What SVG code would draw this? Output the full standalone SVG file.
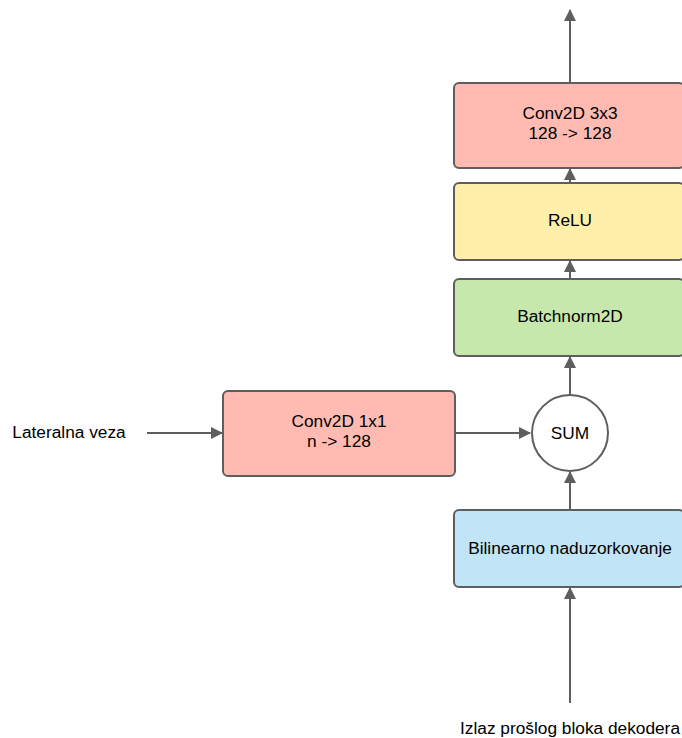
<svg xmlns="http://www.w3.org/2000/svg" width="682" height="738" viewBox="0 0 682 738">
  <style>
    .box { stroke: #5e5e5e; stroke-width: 2; }
    .red { fill: #ffbbb1; }
    .yellow { fill: #ffefa9; }
    .green { fill: #c7e8ac; }
    .blue { fill: #c1e4f7; }
    .lbl { font-family: "Liberation Sans", Arial, sans-serif; font-size: 17.3px; fill: #000; text-anchor: middle; }
    .edge { stroke: #5e5e5e; stroke-width: 2; fill: none; marker-end: url(#arrow); }
  </style>
  <defs>
    <marker id="arrow" viewBox="0 0 12 12" refX="11" refY="6" markerWidth="12" markerHeight="12" markerUnits="userSpaceOnUse" orient="auto">
      <path d="M0,0 L12,6 L0,12 Z" fill="#5e5e5e"/>
    </marker>
  </defs>

  <g id="connectors">
    <line class="edge" x1="570" y1="83" x2="570" y2="10"/>
    <line class="edge" x1="570" y1="183" x2="570" y2="169"/>
    <line class="edge" x1="570" y1="279" x2="570" y2="261"/>
    <line class="edge" x1="570" y1="395" x2="570" y2="357"/>
    <line class="edge" x1="570" y1="510" x2="570" y2="472"/>
    <line class="edge" x1="570" y1="703" x2="570" y2="588"/>
    <line class="edge" x1="147" y1="433" x2="222" y2="433"/>
    <line class="edge" x1="455" y1="433" x2="530" y2="433"/>
  </g>

  <g id="conv3x3">
    <rect class="box red" x="454" y="83" width="230" height="85" rx="5"/>
    <text class="lbl" x="570" y="119">Conv2D 3x3</text>
    <text class="lbl" x="570" y="139">128 -&gt; 128</text>
  </g>

  <g id="relu">
    <rect class="box yellow" x="454" y="183" width="230" height="77" rx="5"/>
    <text class="lbl" x="570" y="226">ReLU</text>
  </g>

  <g id="batchnorm">
    <rect class="box green" x="454" y="279" width="230" height="77" rx="5"/>
    <text class="lbl" x="570" y="322">Batchnorm2D</text>
  </g>

  <g id="sum">
    <circle class="box" cx="570" cy="433" r="38" fill="#ffffff"/>
    <text class="lbl" x="570" y="439">SUM</text>
  </g>

  <g id="conv1x1">
    <rect class="box red" x="223" y="391" width="232" height="85" rx="5"/>
    <text class="lbl" x="339" y="427">Conv2D 1x1</text>
    <text class="lbl" x="339" y="447">n -&gt; 128</text>
  </g>

  <g id="upsample">
    <rect class="box blue" x="454" y="510" width="230" height="77" rx="5"/>
    <text class="lbl" x="570" y="554">Bilinearno naduzorkovanje</text>
  </g>

  <g id="lateral-label">
    <text class="lbl" x="69" y="438">Lateralna veza</text>
  </g>

  <g id="input-label">
    <text class="lbl" x="570" y="734">Izlaz prošlog bloka dekodera</text>
  </g>
</svg>
